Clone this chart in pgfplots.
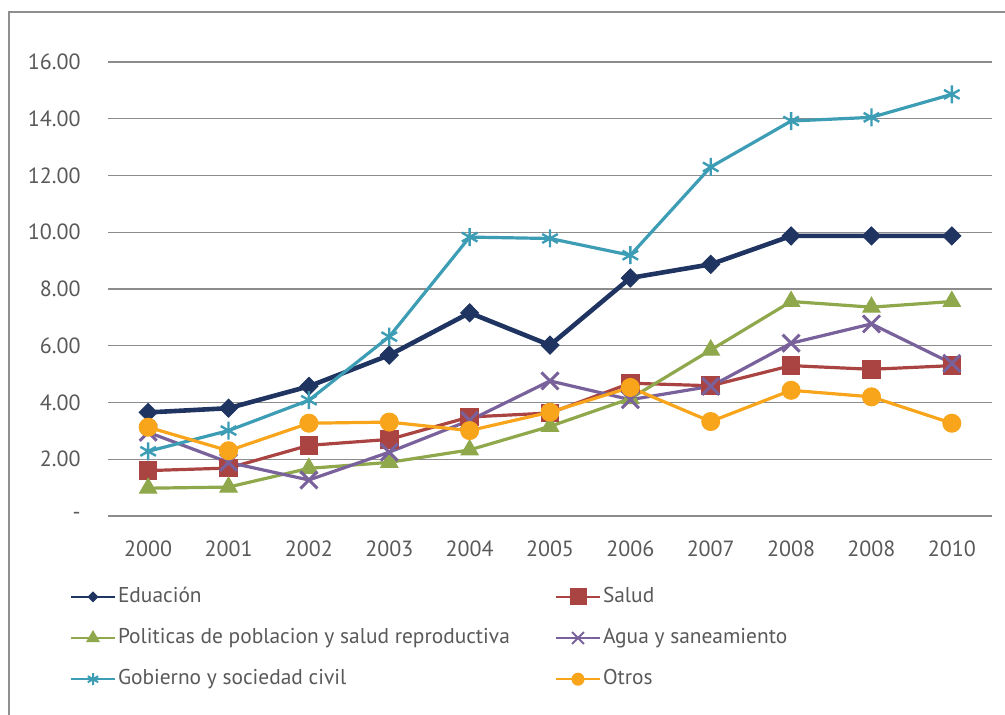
\documentclass[border=0pt]{standalone}
\usepackage{pgfplots}
\pgfplotsset{compat=1.18}
\usepackage{fontspec}
\setmainfont{PT Sans}
\definecolor{cnavy}{HTML}{1F3461}
\definecolor{cred}{HTML}{A94442}
\definecolor{cgreen}{HTML}{8FA84B}
\definecolor{cpurple}{HTML}{79619B}
\definecolor{ccyan}{HTML}{3C9DB5}
\definecolor{corange}{HTML}{F8A51C}
\definecolor{cgrid}{HTML}{8C8C8C}
\definecolor{cframe}{HTML}{8F8F8F}
\definecolor{ctext}{HTML}{595959}
\begin{document}
\begin{tikzpicture}
\useasboundingbox (0,0) rectangle (502.5pt,357pt);
\draw[color=cframe, line width=1pt] (4.5pt,351pt) rectangle (530pt,-30pt);
\begin{axis}[
  at={(54pt,99pt)}, anchor=south west,
  scale only axis, width=442pt, height=227pt,
  xmin=-0.5, xmax=10.5, ymin=0, ymax=16,
  xtick={0,...,10},
  xticklabels={2000,2001,2002,2003,2004,2005,2006,2007,2008,2008,2010},
  ytick={0,2,4,6,8,10,12,14,16},
  yticklabels={{-\hspace{5.5pt}},2.00,4.00,6.00,8.00,10.00,12.00,14.00,16.00},
  axis line style={draw=none},
  tick style={draw=none},
  ymajorgrids,
  major grid style={draw=cgrid, line width=0.65pt},
  tick label style={text=ctext, font=\fontsize{11}{13}\selectfont},
  yticklabel style={anchor=east, inner sep=0pt, xshift=-13.5pt},
  xticklabel style={anchor=north, inner sep=0pt, yshift=-12pt},
  clip=false,
  legend columns=2,
  legend cell align=left,
  legend image code/.code={\draw[mark repeat=2,mark phase=2,#1] plot coordinates {(0pt,0pt) (11pt,0pt) (22pt,0pt)};},
  legend style={at={(-0.04299,-0.2687)}, anchor=west, draw=none, fill=none,
    inner sep=0pt, outer sep=0pt, column sep=1pt, row sep=11.2pt,
    font=\fontsize{10.7}{12.5}\selectfont, text=ctext,
    nodes={inner sep=0pt, text height=7.3pt, text depth=2.1pt}},
]
\addplot[color=cnavy, line width=2.3pt, mark=diamond*, mark size=4.5pt,
  mark options={xscale=1.33, line width=0.5pt},
  legend image post style={line width=1pt, mark size=2.4pt}]
  coordinates {(0,3.65) (1,3.80) (2,4.57) (3,5.67) (4,7.16) (5,6.02) (6,8.39) (7,8.87) (8,9.87) (9,9.87) (10,9.87)};
\addlegendentry{\makebox[217.5pt][l]{Eduación}}
\addplot[color=cred, line width=1.6pt, mark=square*, mark size=4.4pt,
  mark options={line width=0.5pt},
  legend image post style={line width=1pt, mark size=4pt}]
  coordinates {(0,1.60) (1,1.69) (2,2.49) (3,2.70) (4,3.49) (5,3.63) (6,4.68) (7,4.59) (8,5.30) (9,5.17) (10,5.30)};
\addlegendentry{Salud}
\addplot[color=cgreen, line width=1.6pt, mark=triangle*, mark size=5pt,
  mark options={line width=0.5pt},
  legend image post style={line width=1pt, mark size=3.5pt}]
  coordinates {(0,0.98) (1,1.02) (2,1.68) (3,1.89) (4,2.33) (5,3.16) (6,4.14) (7,5.85) (8,7.56) (9,7.36) (10,7.56)};
\addlegendentry{\makebox[217.5pt][l]{Politicas de poblacion y salud reproductiva}}
\addplot[color=cpurple, line width=1.6pt, mark=x, mark size=6pt,
  mark options={line width=1.5pt},
  legend image post style={line width=1pt, mark size=4.2pt, mark options={line width=1pt}}]
  coordinates {(0,2.95) (1,1.89) (2,1.27) (3,2.25) (4,3.37) (5,4.76) (6,4.10) (7,4.57) (8,6.09) (9,6.77) (10,5.38)};
\addlegendentry{Agua y saneamiento}
\addplot[color=ccyan, line width=1.6pt, mark=asterisk, mark size=4.5pt,
  mark options={line width=1.2pt},
  legend image post style={line width=1pt, mark size=3pt, mark options={line width=1pt}}]
  coordinates {(0,2.28) (1,3.01) (2,4.08) (3,6.32) (4,9.83) (5,9.78) (6,9.19) (7,12.30) (8,13.92) (9,14.05) (10,14.86)};
\addlegendentry{\makebox[217.5pt][l]{Gobierno y sociedad civil}}
\addplot[color=corange, line width=1.6pt, mark=*, mark size=4.5pt,
  mark options={line width=0.5pt},
  legend image post style={line width=1pt, mark size=3pt}]
  coordinates {(0,3.13) (1,2.30) (2,3.27) (3,3.31) (4,3.01) (5,3.66) (6,4.53) (7,3.33) (8,4.43) (9,4.20) (10,3.27)};
\addlegendentry{Otros}
\end{axis}
\end{tikzpicture}
\end{document}
